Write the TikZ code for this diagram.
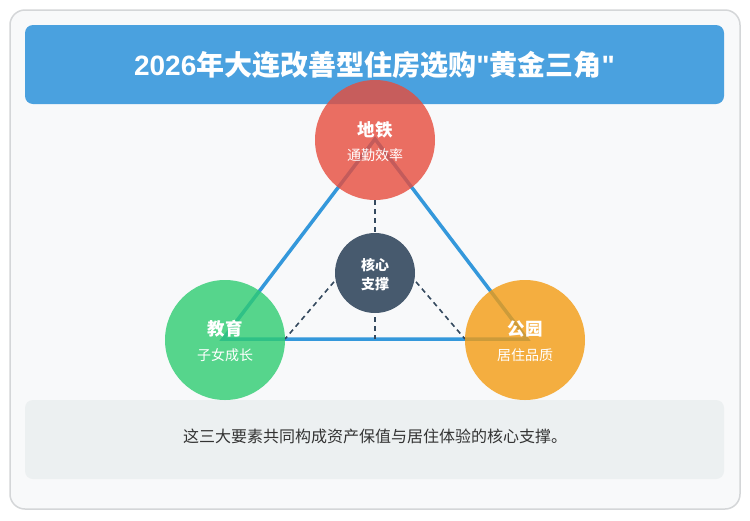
\documentclass[tikz,border=0pt]{standalone}
\usepackage{fontspec}
\setmainfont{Noto Sans CJK SC}
\newfontfamily\latinfont{Liberation Sans}
\definecolor{cardfill}{HTML}{F8F9FA}
\definecolor{cardline}{HTML}{D4D6D8}
\definecolor{banner}{HTML}{4AA1DF}
\definecolor{boxfill}{HTML}{ECF0F1}
\definecolor{triblue}{HTML}{3498DB}
\definecolor{red1}{HTML}{E74C3C}
\definecolor{green1}{HTML}{2ECC71}
\definecolor{orange1}{HTML}{F39C12}
\definecolor{navy}{HTML}{34495E}
\definecolor{corefill}{HTML}{475A6E}
\definecolor{txt}{HTML}{333333}
\tikzset{
  bigcirc/.style={circle, minimum size=120pt, inner sep=0pt, fill opacity=0.8, draw=none},
  corecirc/.style={circle, minimum size=80pt, inner sep=0pt, fill=corefill, draw=none},
  tri/.style={draw=triblue, line width=3.5pt},
  dashline/.style={draw=navy, line width=1.6pt, dash pattern=on 5pt off 4pt},
  lab/.style={text=white, font=\fontsize{17.5}{20}\selectfont\bfseries, inner sep=0pt},
  sublab/.style={text=white, font=\fontsize{14}{16}\selectfont, inner sep=0pt},
  corelab/.style={text=white, font=\fontsize{14}{16}\selectfont\bfseries, inner sep=0pt},
}
\begin{document}
\begin{tikzpicture}[x=1pt,y=-1pt]
\useasboundingbox (0,0) rectangle (750,520);
\fill[white] (0,0) rectangle (750,520);
\node[draw=cardline, line width=1.5pt, fill=cardfill, rounded corners=15pt, minimum width=730pt, minimum height=499pt, inner sep=0pt] (card) at (375,259.5) {};
\node[fill=banner, rounded corners=8pt, minimum width=699pt, minimum height=79pt, inner sep=0pt, text=white, font=\fontsize{28}{32}\selectfont\bfseries] (banner) at (374.5,64.5) {{\latinfont 2026}年大连改善型住房选购{\latinfont\char34}黄金三角{\latinfont\char34}};
\node[fill=boxfill, rounded corners=8pt, minimum width=699pt, minimum height=79pt, inner sep=0pt] (box) at (374.5,439.5) {};
\node[text=txt, font=\fontsize{16}{18}\selectfont, inner sep=0pt] (boxtext) at (375,436) {这三大要素共同构成资产保值与居住体验的核心支撑。};
% geometry
\coordinate (metroC) at (375,139);
\coordinate (eduC) at (223,339);
\coordinate (parkC) at (527,339);
\coordinate (coreC) at (375,273);
\coordinate (dtop) at (375,200);
\coordinate (dbase) at (375,339);
\coordinate (dapex) at (375,234);
\coordinate (dl) at (285,339);
\coordinate (dr) at (465,339);
% connectors
\draw[tri] (metroC) -- (eduC) -- (parkC) -- cycle;
\draw[dashline] (dtop) -- (dbase);
\draw[dashline] (dapex) -- (dl);
\draw[dashline] (dapex) -- (dr);
% circles
\node[bigcirc, fill=red1] (metro) at (375,140) {};
\node[bigcirc, fill=green1] (edu) at (225,340) {};
\node[bigcirc, fill=orange1] (park) at (525,340) {};
\node[corecirc] (core) at (coreC) {};
% labels
\node[lab] (metroT) at (375,130) {地铁};
\node[sublab] (metroS) at (375,155) {通勤效率};
\node[lab] (eduT) at (225,329) {教育};
\node[sublab] (eduS) at (225,355) {子女成长};
\node[lab] (parkT) at (525,329) {公园};
\node[sublab] (parkS) at (525,355) {居住品质};
\node[corelab] (coreT) at (375,265) {核心};
\node[corelab] (coreS) at (375,284) {支撑};
\end{tikzpicture}
\end{document}
